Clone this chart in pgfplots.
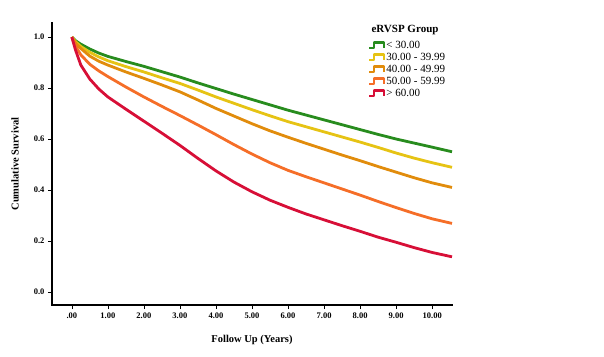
\documentclass[border=0pt]{standalone}
\usepackage{pgfplots}
\pgfplotsset{compat=1.18}
\usepackage{fontspec}
\setmainfont{Liberation Serif}
\definecolor{cgreen}{RGB}{40,140,30}
\definecolor{cyellow}{RGB}{230,195,20}
\definecolor{corange}{RGB}{225,140,12}
\definecolor{cored}{RGB}{245,110,40}
\definecolor{cred}{RGB}{215,15,55}
\pgfplotstableread{
x g y o r d
0 1 1 1 1 1
0.1 0.986 0.982 0.977 0.965 0.950
0.25 0.972 0.963 0.955 0.930 0.890
0.5 0.953 0.940 0.925 0.893 0.835
0.75 0.937 0.922 0.905 0.867 0.796
1 0.924 0.907 0.890 0.845 0.765
1.5 0.904 0.884 0.863 0.804 0.717
2 0.885 0.863 0.838 0.765 0.670
2.5 0.864 0.840 0.812 0.728 0.623
3 0.843 0.818 0.785 0.692 0.575
3.5 0.820 0.792 0.753 0.655 0.524
4 0.798 0.765 0.720 0.617 0.475
4.5 0.776 0.740 0.690 0.578 0.431
5 0.755 0.715 0.660 0.541 0.393
5.5 0.734 0.691 0.632 0.507 0.360
6 0.713 0.668 0.607 0.477 0.332
6.5 0.694 0.648 0.583 0.452 0.306
7 0.675 0.628 0.560 0.428 0.283
7.5 0.656 0.608 0.537 0.404 0.260
8 0.637 0.588 0.515 0.380 0.238
8.5 0.618 0.567 0.492 0.355 0.215
9 0.600 0.545 0.470 0.331 0.195
9.5 0.584 0.525 0.448 0.308 0.174
10 0.568 0.507 0.428 0.287 0.155
10.55 0.550 0.489 0.410 0.269 0.138
}\km
\begin{document}
\begin{tikzpicture}[x=1pt,y=1pt]
\path[use as bounding box] (0,0) rectangle (604,356);
\begin{axis}[
 at={(52pt,51pt)}, anchor=south west,
 scale only axis, width=400pt, height=282pt,
 xmin=-0.55, xmax=10.55, ymin=-0.051, ymax=1.055,
 axis x line*=bottom, axis y line*=left,
 axis line style={line width=2.6pt, line cap=rect, black},
 tick align=outside, major tick length=4pt,
 tick style={black, line width=0.5pt},
 xtick={0,1,2,3,4,5,6,7,8,9,10},
 xticklabels={.00,1.00,2.00,3.00,4.00,5.00,6.00,7.00,8.00,9.00,10.00},
 ytick={0,0.2,0.4,0.6,0.8,1.0},
 yticklabels={0.0,0.2,0.4,0.6,0.8,1.0},
 ticklabel style={font=\bfseries\fontsize{8.5}{9}\selectfont},
 /pgf/number format/assume math mode=true,
 xlabel={Follow Up (Years)}, ylabel={Cumulative Survival},
 xlabel style={at={(axis description cs:0.5,-0.124)}, anchor=center, font=\bfseries\fontsize{10.5}{11}\selectfont},
 ylabel style={at={(axis description cs:-0.0925,0.5)}, anchor=center, font=\bfseries\fontsize{10.5}{11}\selectfont},
 legend style={at={(rel axis cs:0.7825,0.950)}, anchor=north west, draw=none, fill=none,
   font=\fontsize{11}{11}\selectfont, row sep=0pt,
   nodes={inner sep=1pt, text height=8pt, text depth=2pt}},
 legend cell align=left,
 legend image code/.code={\draw[#1,line width=2.2pt] (0pt,-2.8pt) -- (5pt,-2.8pt) -- (5pt,2.8pt) -- (15pt,2.8pt) -- (15pt,-2.8pt);},
 clip=false,
]
\addplot[cgreen, line width=2.8pt, line join=round] table[x=x,y=g]{\km};
\addlegendentry{< 30.00}
\addplot[cyellow, line width=2.8pt, line join=round] table[x=x,y=y]{\km};
\addlegendentry{30.00 - 39.99}
\addplot[corange, line width=2.8pt, line join=round] table[x=x,y=o]{\km};
\addlegendentry{40.00 - 49.99}
\addplot[cored, line width=2.8pt, line join=round] table[x=x,y=r]{\km};
\addlegendentry{50.00 - 59.99}
\addplot[cred, line width=2.8pt, line join=round] table[x=x,y=d]{\km};
\addlegendentry{> 60.00}
\node[font=\bfseries\fontsize{11}{11}\selectfont] at (rel axis cs:0.8825,0.975) {eRVSP Group};
\end{axis}
\end{tikzpicture}
\end{document}
